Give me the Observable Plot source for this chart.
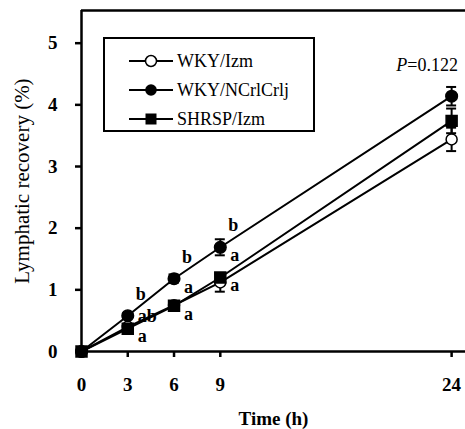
<!DOCTYPE html>
<html>
<head>
<meta charset="utf-8">
<script src="https://cdn.jsdelivr.net/npm/d3@7"></script>
<script src="https://cdn.jsdelivr.net/npm/@observablehq/plot@0.6"></script>
<style>
  html, body { margin: 0; padding: 0; background: white; }
  #wrap { position: relative; width: 465px; height: 429px; font-family: "Liberation Serif", "Times New Roman", serif; }
  #wrap svg, #wrap svg text, #wrap svg g { font-family: "Liberation Serif", "Times New Roman", serif !important; }
  #legend { position: absolute; left: 103px; top: 37px; width: 208px; height: 91px; border: 2px solid black; background: white; }
  .row { position: absolute; left: 24px; height: 24px; display: flex; align-items: center; font-size: 18px; }
  .row svg { margin-right: 4px; }
  #pval { position: absolute; right: 7px; top: 55px; font-size: 18px; }
</style>
</head>
<body>
<div id="wrap"></div>
<script>
// ---- data ----
const times = [0, 3, 6, 9, 24];
const seriesNames = ["WKY/Izm", "WKY/NCrlCrlj", "SHRSP/Izm"];
const wkyIzm = [0, 0.40, 0.75, 1.12, 3.44];
const wkyNcrl = [0, 0.58, 1.18, 1.69, 4.14];
const shrspIzm = [0, 0.37, 0.74, 1.20, 3.74];
const wkyIzmSem = [0, 0.03, 0.04, 0.15, 0.19];
const wkyNcrlSem = [0, 0.04, 0.07, 0.13, 0.15];
const shrspIzmSem = [0, 0.03, 0.04, 0.05, 0.20];
const xTicks = [0, 3, 6, 9, 24];
const yTicks = [0, 1, 2, 3, 4, 5];
const xDomain = [0, 24.9];
const yDomain = [0, 5.53];
const xLabel = "Time (h)";
const yLabel = "Lymphatic recovery (%)";
// significance letters: time, series they sit next to, letter, side
const letterTime = [3, 6, 9, 3, 3, 6, 6, 9, 9];
const letterSeries = ["WKY/NCrlCrlj", "WKY/NCrlCrlj", "WKY/NCrlCrlj", "WKY/NCrlCrlj", "SHRSP/Izm", "WKY/NCrlCrlj", "SHRSP/Izm", "WKY/NCrlCrlj", "SHRSP/Izm"];
const letterText = ["b", "b", "b", "ab", "a", "a", "a", "a", "a"];
const letterSide = ["above", "above", "above", "beside", "below", "below", "below", "below", "below"];
const pText = "0.122";

// ---- build table ----
const means = {"WKY/Izm": wkyIzm, "WKY/NCrlCrlj": wkyNcrl, "SHRSP/Izm": shrspIzm};
const sems = {"WKY/Izm": wkyIzmSem, "WKY/NCrlCrlj": wkyNcrlSem, "SHRSP/Izm": shrspIzmSem};
const rows = [];
for (const s of seriesNames) times.forEach((t, i) => rows.push({series: s, time: t, value: means[s][i], sem: sems[s][i]}));
const letters = letterTime.map((t, i) => ({time: t, value: means[letterSeries[i]][times.indexOf(t)], text: letterText[i], side: letterSide[i]}));
const bars = rows.filter(d => d.sem > 0);
const bySeries = s => rows.filter(d => d.series === s);

const font = '"Liberation Serif", serif';
const chart = Plot.plot({
  width: 465, height: 429,
  marginLeft: 81, marginRight: 0, marginTop: 10, marginBottom: 78,
  style: {fontFamily: font, fontSize: "18px", color: "black", background: "white", overflow: "visible"},
  x: {domain: xDomain},
  y: {domain: yDomain},
  marks: [
    Plot.axisX({ticks: xTicks, tickSize: 6, tickPadding: 20, strokeWidth: 2.5, fontWeight: "bold", fontSize: 19, label: null, tickFormat: d => String(d)}),
    Plot.axisY({ticks: yTicks, tickSize: 6, tickPadding: 18, strokeWidth: 2.5, fontWeight: "bold", fontSize: 19, label: null, tickFormat: d => String(d)}),
    Plot.text([yLabel], {frameAnchor: "left", textAnchor: "middle", lineAnchor: "middle", dx: -59, rotate: -90, fontSize: 21, fontFamily: font}),
    Plot.text([xLabel], {frameAnchor: "bottom", textAnchor: "middle", lineAnchor: "middle", dy: 67, fontSize: 19, fontWeight: "bold", fontFamily: font}),
    Plot.ruleX([xDomain[0]], {strokeWidth: 2.5}),
    Plot.ruleY([yDomain[0]], {strokeWidth: 2.5}),
    Plot.ruleY([yDomain[1]], {strokeWidth: 2.5}),
    Plot.line(rows, {x: "time", y: "value", z: "series", stroke: "black", strokeWidth: 2}),
    Plot.ruleX(bars, {x: "time", y1: d => d.value - d.sem, y2: d => d.value + d.sem, strokeWidth: 2}),
    Plot.ruleY(bars, {y: d => d.value + d.sem, x1: "time", x2: "time", insetLeft: -5, insetRight: -5, strokeWidth: 2}),
    Plot.ruleY(bars, {y: d => d.value - d.sem, x1: "time", x2: "time", insetLeft: -5, insetRight: -5, strokeWidth: 2}),
    Plot.dot(bySeries("WKY/Izm"), {x: "time", y: "value", r: 5.5, fill: "white", stroke: "black", strokeWidth: 1.5}),
    Plot.dot(bySeries("WKY/NCrlCrlj"), {x: "time", y: "value", r: 5.8, fill: "black", stroke: "black"}),
    Plot.dot(bySeries("SHRSP/Izm"), {x: "time", y: "value", symbol: "square", r: 6.2, fill: "black", stroke: "black"}),
    Plot.text(letters.filter(d => d.side === "above"), {x: "time", y: "value", text: "text", dx: 13, dy: -22, fontWeight: "bold", fontSize: 18, fontFamily: font}),
    Plot.text(letters.filter(d => d.side === "beside"), {x: "time", y: "value", text: "text", dx: 10, dy: 0, textAnchor: "start", fontWeight: "bold", fontSize: 18, fontFamily: font}),
    Plot.text(letters.filter(d => d.side === "below"), {x: "time", y: "value", text: "text", dx: 10, dy: 8, textAnchor: "start", fontWeight: "bold", fontSize: 18, fontFamily: font})
  ]
});
const wrap = document.getElementById("wrap");
wrap.appendChild(chart);

// legend overlay
const legend = document.createElement("div");
legend.id = "legend";
const sym = {
  "WKY/Izm": '<circle cx="22" cy="12" r="5.5" fill="white" stroke="black" stroke-width="1.5"/>',
  "WKY/NCrlCrlj": '<circle cx="22" cy="12" r="5.8" fill="black"/>',
  "SHRSP/Izm": '<rect x="16.5" y="6.5" width="11" height="11" fill="black"/>'
};
seriesNames.forEach((s, i) => {
  const row = document.createElement("div");
  row.className = "row";
  row.style.top = (10 + i * 29) + "px";
  row.innerHTML = '<svg width="44" height="24"><line x1="0" x2="44" y1="12" y2="12" stroke="black" stroke-width="2"/>' + sym[s] + '</svg><span>' + s + '</span>';
  legend.appendChild(row);
});
wrap.appendChild(legend);
const p = document.createElement("div");
p.id = "pval";
p.innerHTML = "<i>P</i>=" + pText;
wrap.appendChild(p);
</script>
</body>
</html>
